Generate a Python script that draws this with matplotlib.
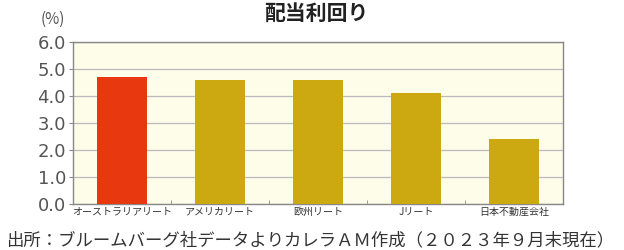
import matplotlib
matplotlib.use("Agg")
import matplotlib.pyplot as plt

plt.rcParams['font.family'] = ['Noto Sans CJK JP', 'DejaVu Sans']

categories = ["オーストラリアリート", "アメリカリート", "欧州リート", "Jリート", "日本不動産会社"]
values = [4.7, 4.6, 4.6, 4.1, 2.4]
colors = ["#E8380F", "#CCA910", "#CCA910", "#CCA910", "#CCA910"]
yticks = [0.0, 1.0, 2.0, 3.0, 4.0, 5.0, 6.0]

fig = plt.figure(figsize=(6.24, 2.5), dpi=100)
ax = fig.add_axes([73/624, 1-204/250, 490/624, 162/250])
ax.set_facecolor("#FEFDEA")
x = list(range(len(categories)))
ax.bar(x, values, width=0.51, color=colors, zorder=3)
ax.set_xlim(-0.5, len(categories)-0.5)
ax.set_ylim(0, 6)
ax.set_yticks(yticks)
ax.set_yticklabels([f"{v:.1f}" for v in yticks], fontsize=13, color="#555555", family="DejaVu Sans")
ax.yaxis.grid(True, color="#BBBBBB", linewidth=0.9, zorder=0)
ax.set_xticks(x)
ax.set_xticklabels(categories, fontsize=7.2, color="#333333")
ax.set_xticks([i+0.5 for i in x[:-1]], minor=True)
ax.tick_params(axis='x', which='major', length=0, pad=2)
ax.tick_params(axis='x', which='minor', length=3, direction='in', color="#888888")
ax.tick_params(axis='y', length=3, color="#888888", pad=2)
for s in ax.spines.values():
    s.set_color("#888888")
    s.set_linewidth(1.0)

fig.text(316/624, 1-13/250, "配当利回り", ha="center", va="center", fontsize=15, fontweight="bold", color="#222222")
fig.text(53/624, 1-19/250, "(%)", ha="center", va="center", fontsize=11, color="#555555")
fig.text(6/624, 1-240/250, "出所：ブルームバーグ社データよりカレラＡＭ作成（２０２３年９月末現在）", ha="left", va="center", fontsize=12.5, color="#333333")

fig.savefig("out.png", dpi=100)
